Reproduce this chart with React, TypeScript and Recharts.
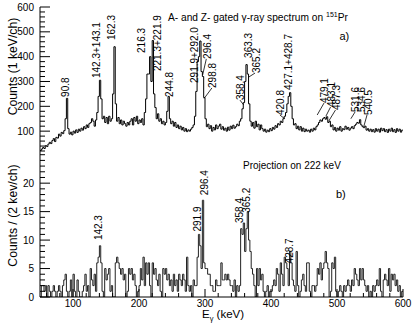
import React from 'react';
import { LineChart, Line, XAxis, YAxis, ReferenceDot, ReferenceLine } from 'recharts';

// histogram binning (keV)
const E_START = 50;
const BIN_WIDTH = 2;

// a) A- and Z- gated spectrum, counts per 1 keV channel, summed display bins of 2 keV (starting at 50 keV)
const topCounts = [
  22, 28, 34, 30, 42, 38, 48, 55, 50, 62,
  70, 58, 75, 72, 88, 80, 95, 90, 102, 150,
  232, 110, 88, 96, 85, 100, 92, 105, 95, 108,
  100, 112, 104, 118, 110, 125, 115, 130, 135, 150,
  140, 120, 145, 175, 240, 305, 230, 150, 160, 135,
  155, 130, 160, 140, 150, 250, 440, 210, 140, 155,
  130, 145, 125, 140, 130, 120, 135, 125, 140, 150,
  125, 155, 140, 160, 130, 145, 135, 150, 125, 175,
  230, 330, 330, 400, 300, 465, 250, 195, 150, 170,
  140, 150, 130, 140, 125, 135, 180, 240, 150, 130,
  140, 120, 135, 115, 125, 110, 120, 105, 115, 100,
  110, 98, 105, 100, 108, 115, 125, 160, 260, 380,
  400, 463, 340, 320, 235, 150, 118, 128, 110, 122,
  100, 115, 105, 125, 110, 120, 128, 108, 118, 104,
  112, 100, 116, 104, 120, 110, 124, 112, 118, 128,
  122, 140, 150, 190, 215, 300, 368, 330, 210, 140,
  120, 135, 112, 140, 118, 128, 105, 125, 110, 100,
  108, 96, 104, 98, 110, 102, 115, 108, 122, 115,
  130, 125, 140, 135, 150, 160, 175, 210, 240, 255,
  200, 150, 125, 130, 110, 120, 105, 118, 100, 112,
  98, 108, 100, 104, 96, 108, 100, 112, 105, 118,
  125, 135, 145, 140, 150, 155, 148, 158, 135, 140,
  118, 125, 105, 115, 100, 112, 104, 118, 100, 110,
  106, 120, 108, 115, 104, 112, 118, 110, 122, 128,
  135, 132, 146, 125, 118, 114, 120, 104, 110, 100,
  108, 98, 106, 96, 110, 100, 108, 96, 112, 102,
  110, 98, 106, 95, 108, 100, 112, 98, 106, 95,
  110, 100, 108, 96, 104,
];

// b) projection on 222 keV, counts per 2 keV channel (starting at 50 keV)
const bottomCounts = [
  0, 2, 2, 1, 2, 0, 2, 1, 0, 1,
  2, 1, 0, 1, 2, 1, 0, 2, 3, 4,
  1, 0, 1, 3, 0, 4, 1, 0, 3, 1,
  0, 0, 1, 2, 4, 1, 2, 0, 5, 3,
  2, 4, 1, 6, 7, 9, 6, 1, 0, 5,
  3, 4, 5, 1, 2, 0, 0, 6, 7, 6,
  5, 4, 5, 3, 4, 0, 1, 5, 4, 5,
  3, 4, 2, 0, 1, 2, 5, 3, 7, 2,
  6, 4, 6, 2, 0, 6, 4, 5, 3, 2,
  4, 1, 0, 5, 4, 5, 3, 4, 2, 3,
  1, 4, 2, 3, 1, 4, 3, 2, 4, 3,
  1, 7, 2, 1, 2, 0, 3, 2, 2, 7,
  11, 9, 5, 17, 6, 5, 5, 4, 4, 2,
  2, 1, 1, 3, 2, 2, 2, 6, 3, 3,
  4, 3, 4, 3, 2, 2, 1, 3, 0, 2,
  1, 2, 12, 11, 13, 8, 12, 15, 10, 8,
  5, 4, 2, 0, 5, 2, 5, 3, 4, 1,
  0, 1, 2, 0, 1, 1, 2, 3, 2, 5,
  4, 1, 6, 4, 2, 7, 6, 5, 2, 8,
  6, 3, 2, 1, 8, 2, 0, 1, 3, 4,
  2, 1, 6, 6, 1, 0, 2, 2, 1, 2,
  5, 4, 6, 3, 5, 6, 8, 6, 5, 0,
  1, 6, 5, 7, 1, 0, 1, 2, 1, 0,
  2, 1, 2, 3, 2, 1, 3, 2, 5, 4,
  3, 2, 5, 3, 5, 3, 2, 1, 2, 0,
  1, 0, 2, 1, 2, 3, 2, 5, 1, 0,
  3, 4, 3, 2, 5, 1, 4, 3, 4, 2,
  3, 1, 2, 0, 1,
];

const xMajor = [100, 200, 300, 400, 500, 600];
const xMinor = [60, 80, 120, 140, 160, 180, 220, 240, 260, 280, 320, 340, 360, 380, 420, 440, 460, 480, 520, 540, 560, 580];
const topYMajor = [100, 200, 300, 400, 500, 600];
const bottomYMajor = [0, 5, 10, 15, 20];

// peak annotations: label, energy / count where the rotated text starts, optional leader start
const topPeakLabels = [
  { text: '90.8', e: 88.6, c: 238 },
  { text: '142.3+143.1', e: 135.6, c: 314 },
  { text: '162.3', e: 158.3, c: 467 },
  { text: '216.3', e: 203.8, c: 415 },
  { text: '221.3+221.9', e: 227.3, c: 342 },
  { text: '244.8', e: 245.5, c: 238 },
  { text: '291.9+292.0', e: 283.8, c: 294 },
  { text: '296.4', e: 303.5, c: 391, from: [296.4, 326] },
  { text: '298.8', e: 312, c: 274, from: [298.8, 232] },
  { text: '358.4', e: 354.5, c: 225, from: [358.4, 206] },
  { text: '363.3', e: 365.6, c: 395 },
  { text: '365.2', e: 377.3, c: 334, from: [365.2, 316] },
  { text: '420.8', e: 415, c: 165, from: [420.8, 150] },
  { text: '427.1+428.7', e: 425.8, c: 266 },
  { text: '479.1', e: 481.8, c: 213, from: [470, 165] },
  { text: '483.1', e: 491.7, c: 197, from: [483.1, 160] },
  { text: '487.3', e: 499.2, c: 185, from: [487.3, 140] },
  { text: '531.6', e: 528.8, c: 177, from: [521, 150] },
  { text: '534.6', e: 536.4, c: 177 },
  { text: '540.5', e: 547, c: 165, from: [540.5, 118] },
];

const bottomPeakLabels = [
  { text: '142.3', e: 138.6, c: 10 },
  { text: '291.9', e: 289.4, c: 11.5 },
  { text: '296.4', e: 299.5, c: 17.9 },
  { text: '358.4', e: 352, c: 13 },
  { text: '365.2', e: 363.2, c: 14.8 },
  { text: '428.7', e: 428.3, c: 5.9 },
];

const SANS = "'Liberation Sans', Arial, Helvetica, sans-serif";
const NARROW = "'Liberation Sans Narrow', 'Arial Narrow', 'Liberation Sans', sans-serif";

const toSteps = (counts: number[]) => {
  const pts = counts.map((c, i) => ({ e: E_START + i * BIN_WIDTH, c }));
  pts.push({ e: E_START + counts.length * BIN_WIDTH, c: counts[counts.length - 1] });
  return pts;
};

const topData = toSteps(topCounts);
const bottomData = toSteps(bottomCounts);

const xTicks = [...xMinor, ...xMajor].sort((a, b) => a - b);
const minorsBetween = (majors: number[], step: number, lo: number, hi: number) => {
  const out: number[] = [];
  for (let v = lo; v <= hi + 1e-9; v += step) out.push(Math.round(v * 100) / 100);
  return out.filter((v) => !majors.includes(v)).concat(majors).sort((a, b) => a - b);
};
const topYTicks = minorsBetween(topYMajor, 20, 20, 600);
const bottomYTicks = minorsBetween(bottomYMajor, 1, 0, 25);

const makeXTick = (dir: number, showLabel: boolean) => (props: any) => {
  const { x, y, payload } = props;
  const major = xMajor.includes(payload.value);
  return (
    <g>
      <line x1={x} x2={x} y1={y} y2={y + dir * (major ? 8 : 4)} stroke="#000" strokeWidth={1} />
      {showLabel && major && (
        <text x={x} y={y + 9.5} textAnchor="middle" fontSize={10} fontFamily={NARROW} fill="#000">
          {payload.value}
        </text>
      )}
    </g>
  );
};

const makeYTick = (majors: number[], labelled: number[]) => (props: any) => {
  const { x, y, payload } = props;
  const major = majors.includes(payload.value);
  return (
    <g>
      <line x1={x} x2={x + (major ? 10 : 5)} y1={y} y2={y} stroke="#000" strokeWidth={1} />
      {labelled.includes(payload.value) && (
        <text x={x - 6} y={y} dy="0.35em" textAnchor="end" fontSize={10} fontFamily={NARROW} fill="#000">
          {payload.value}
        </text>
      )}
    </g>
  );
};

const PeakText = ({ cx, cy, text }: { cx: number; cy: number; text: string }) => (
  <text
    x={cx}
    y={cy}
    transform={`rotate(-90 ${cx} ${cy})`}
    textAnchor="start"
    dy="0.35em"
    fontSize={10}
    fontFamily={SANS}
    fill="#000"
  >
    {text}
  </text>
);

const renderLabels = (labels: { text: string; e: number; c: number; from?: number[] }[]) =>
  labels.flatMap((l) => {
    const items = [
      <ReferenceDot
        key={`d-${l.text}`}
        x={l.e}
        y={l.c}
        r={0}
        ifOverflow="visible"
        shape={(p: any) => <PeakText cx={p.cx} cy={p.cy} text={l.text} />}
      />,
    ];
    if (l.from) {
      items.push(
        <ReferenceLine
          key={`l-${l.text}`}
          segment={[{ x: l.from[0], y: l.from[1] }, { x: l.e - 1.5, y: l.c }]}
          stroke="#000"
          strokeWidth={0.8}
          ifOverflow="visible"
        />
      );
    }
    return items;
  });

const App: React.FC = () => {
  return (
    <div style={{ position: 'absolute', left: 0, top: 0, width: 415, height: 326, background: '#fff' }}>
      <div style={{ position: 'absolute', left: 0, top: 0 }}>
        <LineChart width={415} height={160} data={topData} margin={{ top: 7, right: 12, bottom: 7, left: 0 }}>
          <XAxis
            dataKey="e"
            type="number"
            domain={[50, 600]}
            allowDataOverflow
            ticks={xTicks}
            interval={0}
            height={0}
            tickSize={0}
            tickMargin={0}
            tick={makeXTick(-1, false)}
            axisLine={{ stroke: '#000' }}
            tickLine={false}
          />
          <XAxis xAxisId="top" orientation="top" type="number" domain={[50, 600]} height={0} tick={false} tickLine={false} axisLine={{ stroke: '#000' }} />
          <YAxis
            type="number"
            domain={[12, 600]}
            allowDataOverflow
            ticks={topYTicks}
            interval={0}
            width={40}
            tickSize={0}
            tickMargin={0}
            tick={makeYTick(topYMajor, topYMajor)}
            axisLine={{ stroke: '#000' }}
            tickLine={false}
          />
          <YAxis yAxisId="right" orientation="right" type="number" domain={[12, 600]} width={0} tick={false} tickLine={false} axisLine={{ stroke: '#000' }} />
          <Line type="stepAfter" dataKey="c" stroke="#000" strokeWidth={1} dot={false} isAnimationActive={false} />
          {renderLabels(topPeakLabels)}
        </LineChart>
      </div>
      <div style={{ position: 'absolute', left: 0, top: 153 }}>
        <LineChart width={415} height={173} data={bottomData} margin={{ top: 0, right: 12, bottom: 0, left: 0 }}>
          <XAxis
            dataKey="e"
            type="number"
            domain={[50, 600]}
            allowDataOverflow
            ticks={xTicks}
            interval={0}
            height={29}
            tickSize={0}
            tickMargin={0}
            tick={makeXTick(-1, true)}
            axisLine={{ stroke: '#000' }}
            tickLine={false}
          />
          <XAxis
            xAxisId="top"
            orientation="top"
            type="number"
            domain={[50, 600]}
            ticks={xTicks}
            interval={0}
            height={0}
            tickSize={0}
            tickMargin={0}
            tick={makeXTick(1, false)}
            tickLine={false}
            axisLine={{ stroke: '#000' }}
          />
          <YAxis
            type="number"
            domain={[0, 25.3]}
            allowDataOverflow
            ticks={bottomYTicks}
            interval={0}
            width={40}
            tickSize={0}
            tickMargin={0}
            tick={makeYTick(bottomYMajor, bottomYMajor)}
            axisLine={{ stroke: '#000' }}
            tickLine={false}
          />
          <YAxis yAxisId="right" orientation="right" type="number" domain={[0, 25.3]} width={0} tick={false} tickLine={false} axisLine={{ stroke: '#000' }} />
          <Line type="stepAfter" dataKey="c" stroke="#222" strokeWidth={1} dot={false} isAnimationActive={false} />
          {renderLabels(bottomPeakLabels)}
        </LineChart>
      </div>
      <svg width={415} height={326} style={{ position: 'absolute', left: 0, top: 0, pointerEvents: 'none' }}>
        <g fontFamily={SANS} fill="#000">
          <text x={168} y={20.5} fontSize={10.2}>
            A- and Z- gated γ-ray spectrum on <tspan fontSize={7} dy={-4}>151</tspan>
            <tspan dy={4}>Pr</tspan>
          </text>
          <text x={339.5} y={40} fontSize={11}>a)</text>
          <text x={243} y={169} fontSize={10}>Projection on 222 keV</text>
          <text x={336} y={198} fontSize={11}>b)</text>
          <text x={17} y={66.5} fontSize={12.2} textAnchor="middle" transform="rotate(-90 17 66.5)">
            Counts (1 keV/ch)
          </text>
          <text x={16.5} y={215.5} fontSize={12.2} textAnchor="middle" transform="rotate(-90 16.5 215.5)">
            Counts / (2 kev/ch)
          </text>
          <text x={202} y={318} fontSize={11.5}>
            E<tspan fontSize={7.5} dy={3}>γ</tspan>
            <tspan dy={-3}> (keV)</tspan>
          </text>
        </g>
      </svg>
    </div>
  );
};

export default App;
